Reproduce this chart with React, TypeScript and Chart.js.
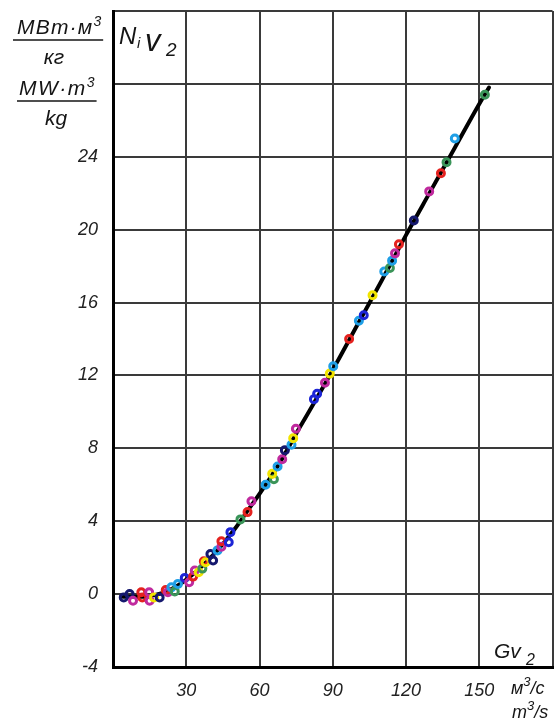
import { useEffect, useRef } from "react";
import { Chart, registerables } from "chart.js";

Chart.register(...registerables);

// Measured points: Gv2 (m3/s) and Ni*v2 (MW*m3/kg)
const gvValues = [
  4.4, 6.8, 8.2, 11.6, 12.0, 14.8, 15.0, 16.8, 19.1, 21.6,
  22.5, 23.9, 25.3, 26.6, 29.4, 31.2, 32.8, 33.5, 35.1, 36.6,
  37.2, 37.9, 39.9, 41.0, 42.8, 44.4, 44.4, 47.4, 48.1, 52.2,
  55.1, 56.7, 62.5, 65.9, 65.2, 67.4, 69.3, 70.4, 73.1, 73.8,
  74.9, 82.3, 83.6, 86.8, 88.8, 90.2, 96.7, 100.7, 102.7, 106.3,
  111.1, 113.4, 114.3, 115.5, 117.1, 123.2, 129.5, 134.3, 136.6, 140.0,
  152.3,
];
const niValues = [
  -0.18, 0.0, -0.36, 0.1, -0.18, 0.1, -0.36, -0.18, -0.18, 0.23,
  0.1, 0.37, 0.15, 0.56, 0.89, 0.65, 0.96, 1.3, 1.2, 1.4,
  1.8, 1.75, 2.2, 1.84, 2.4, 2.6, 2.9, 2.85, 3.4, 4.1,
  4.5, 5.1, 6.0, 6.3, 6.6, 7.0, 7.4, 7.9, 8.2, 8.55,
  9.07, 10.7, 11.0, 11.6, 12.1, 12.5, 14.0, 15.0, 15.3, 16.4,
  17.7, 17.9, 18.3, 18.7, 19.2, 20.5, 22.1, 23.1, 23.7, 25.0,
  27.4,
];
const pointColorNames = [
  "navy", "navy", "magenta", "red", "red", "magenta", "magenta", "yellow", "navy", "red",
  "magenta", "cyan", "green", "cyan", "blue", "magenta", "red", "magenta", "yellow", "green",
  "red", "yellow", "navy", "navy", "cyan", "magenta", "red", "blue", "blue", "green",
  "red", "magenta", "cyan", "green", "yellow", "cyan", "magenta", "navy", "cyan", "yellow",
  "magenta", "blue", "blue", "magenta", "yellow", "cyan", "red", "cyan", "blue", "yellow",
  "cyan", "green", "cyan", "magenta", "red", "navy", "magenta", "red", "green", "cyan",
  "green",
];

// Fitted curve
const curveGv = [4, 10, 15, 20, 25, 30, 35, 40, 45, 50, 55, 60, 65, 70, 75, 80, 90, 100, 110, 120, 130, 140, 150, 154];
const curveNi = [-0.15, -0.15, -0.1, 0.05, 0.35, 0.8, 1.35, 2.0, 2.75, 3.6, 4.55, 5.5, 6.5, 7.6, 8.8, 9.95, 12.3, 14.75, 17.2, 19.7, 22.1, 24.5, 26.9, 27.8];

const xGridValues = [30, 60, 90, 120, 150, 180];
const xLabelMax = 150;
const xMin = 0;
const xMax = 180;
const yMin = -4;
const yMax = 32;
const yStep = 4;
const yLabelMax = 24;

const palette: Record<string, string> = {
  navy: "#15186e",
  magenta: "#c02a9e",
  red: "#e4221f",
  yellow: "#f1e400",
  cyan: "#1f9fe6",
  blue: "#1c25d6",
  green: "#3a9458",
};

const FONT = '"Liberation Sans", Arial, sans-serif';
const CANVAS_W = 556;
const CANVAS_H = 722;
const PLOT_LEFT = 113;

const textPlugin = {
  id: "annotTexts",
  afterDraw(chart: any) {
    const ctx = chart.ctx as CanvasRenderingContext2D;
    ctx.save();
    ctx.fillStyle = "#151515";
    ctx.strokeStyle = "#151515";
    ctx.textBaseline = "alphabetic";
    const f = (s: number) => `italic ${s}px ${FONT}`;
    const anyCtx = ctx as any;

    // helper: text + superscript 3, left aligned at x
    const withSup = (base: string, x: number, y: number, spacing: number) => {
      anyCtx.letterSpacing = spacing + "px";
      ctx.font = f(21);
      ctx.textAlign = "left";
      ctx.fillText(base, x, y);
      const w = ctx.measureText(base).width;
      anyCtx.letterSpacing = "0px";
      ctx.font = f(14);
      ctx.fillText("3", x + w, y - 8);
      return w + ctx.measureText("3").width;
    };

    // Units of the y axis
    let w = withSup("МВт·м", 17, 34, 1.2);
    ctx.lineWidth = 1.5;
    ctx.beginPath();
    ctx.moveTo(13, 40);
    ctx.lineTo(17 + w + 2, 40);
    ctx.stroke();
    ctx.textAlign = "center";
    ctx.font = f(21);
    ctx.fillText("кг", 54, 64);
    w = withSup("MW·m", 19, 95, 1.5);
    ctx.beginPath();
    ctx.moveTo(17, 101);
    ctx.lineTo(19 + w + 2, 101);
    ctx.stroke();
    ctx.textAlign = "center";
    ctx.font = f(21);
    ctx.fillText("kg", 56, 125);

    // Ni v2 title in the top-left cell
    ctx.textAlign = "left";
    ctx.font = f(24);
    ctx.fillText("N", 119, 44);
    ctx.font = f(15);
    ctx.fillText("i", 137, 48);
    ctx.font = f(31);
    ctx.fillText("v", 145, 51);
    ctx.font = f(19);
    ctx.fillText("2", 166, 56);

    // Gv2 in the bottom-right cell
    ctx.font = f(21);
    ctx.fillText("Gv", 494, 658);
    ctx.font = f(16);
    ctx.fillText("2", 526, 665);

    // x units
    ctx.font = f(18);
    ctx.fillText("м", 511, 694);
    let ww = ctx.measureText("м").width;
    ctx.font = f(13);
    ctx.fillText("3", 511 + ww, 686);
    let w3 = ctx.measureText("3").width;
    ctx.font = f(18);
    ctx.fillText("/с", 511 + ww + w3, 694);

    ctx.fillText("m", 512, 718);
    ww = ctx.measureText("m").width;
    ctx.font = f(13);
    ctx.fillText("3", 512 + ww, 710);
    w3 = ctx.measureText("3").width;
    ctx.font = f(18);
    ctx.fillText("/s", 512 + ww + w3, 718);
    ctx.restore();
  },
};

export default function App() {
  const ref = useRef<HTMLCanvasElement>(null);
  useEffect(() => {
    if (!ref.current) return;
    const pts = gvValues.map((x, i) => ({ x, y: niValues[i] }));
    const curve = curveGv.map((x, i) => ({ x, y: curveNi[i] }));
    const colors = pointColorNames.map((n) => palette[n]);
    const chart = new Chart(ref.current, {
      type: "scatter",
      data: {
        datasets: [
          {
            data: pts,
            order: 0,
            pointRadius: 3.5,
            pointBorderWidth: 3,
            pointBorderColor: colors,
            pointBackgroundColor: "rgba(0,0,0,0)",
            showLine: false,
          },
          {
            data: curve,
            order: 1,
            showLine: true,
            borderColor: "#000",
            borderWidth: 4,
            pointRadius: 0,
            cubicInterpolationMode: "monotone",
            borderCapStyle: "round",
          },
        ],
      },
      options: {
        responsive: false,
        animation: false,
        events: [],
        layout: { autoPadding: false, padding: { top: 11, right: 3.5, left: 0, bottom: 0 } },
        plugins: { legend: { display: false }, tooltip: { enabled: false } },
        scales: {
          x: {
            type: "linear",
            min: xMin,
            max: xMax,
            afterBuildTicks: (s: any) => {
              s.ticks = xGridValues.map((v) => ({ value: v }));
            },
            afterFit: (s: any) => {
              s.height = 55;
              s.paddingLeft = 0;
              s.paddingRight = 0;
            },
            grid: { color: "#3a3a3a", lineWidth: 2, drawTicks: false },
            border: { color: "#000", width: 3 },
            ticks: {
              autoSkip: false,
              maxRotation: 0,
              padding: 13,
              color: "#222",
              font: { family: FONT, size: 18, style: "italic" },
              callback: (v: any) => (Number(v) > xLabelMax ? "" : String(v)),
            },
          },
          y: {
            type: "linear",
            min: yMin,
            max: yMax,
            afterFit: (s: any) => {
              s.width = PLOT_LEFT;
              s.paddingTop = 0;
              s.paddingBottom = 0;
            },
            grid: { color: "#3a3a3a", lineWidth: 2, drawTicks: false },
            border: { color: "#000", width: 3 },
            ticks: {
              stepSize: yStep,
              padding: 15,
              color: "#222",
              font: { family: FONT, size: 18, style: "italic" },
              callback: (v: any) => (Number(v) > yLabelMax ? "" : String(v)),
            },
          },
        },
      },
      plugins: [textPlugin],
    });
    return () => chart.destroy();
  }, []);
  return (
    <div
      style={{
        position: "fixed",
        left: 0,
        top: 0,
        width: CANVAS_W,
        height: CANVAS_H,
        overflow: "hidden",
        background: "#fff",
      }}
    >
      <canvas ref={ref} width={CANVAS_W} height={CANVAS_H} style={{ width: CANVAS_W, height: CANVAS_H, display: "block" }} />
    </div>
  );
}
